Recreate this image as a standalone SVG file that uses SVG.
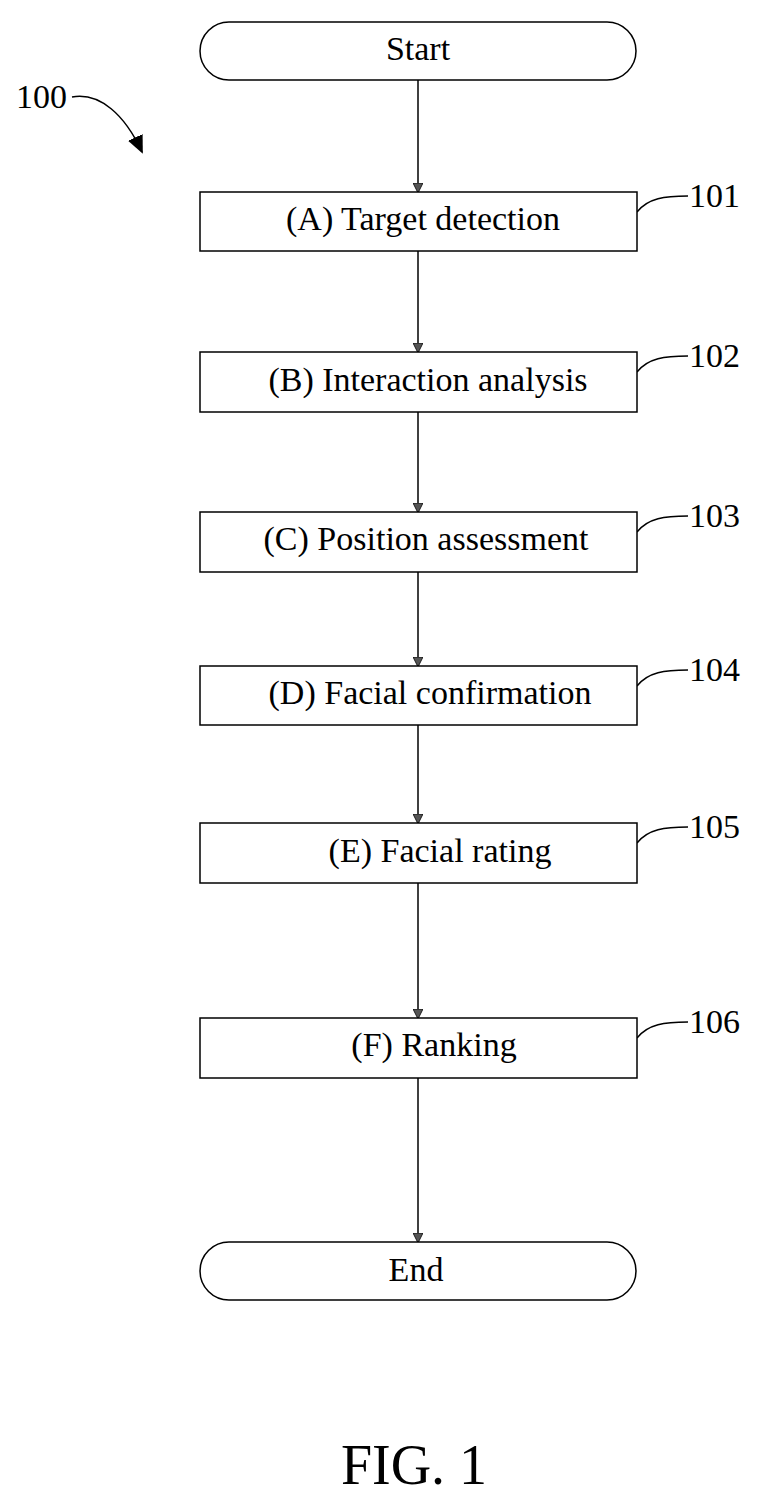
<svg xmlns="http://www.w3.org/2000/svg" width="762" height="1505" viewBox="0 0 762 1505">
<style>
.b{fill:#fff;stroke:#000;stroke-width:1.5}
.t{font-family:"Liberation Serif",serif;font-size:34px;fill:#000;text-anchor:middle}
.n{font-family:"Liberation Serif",serif;font-size:34px;fill:#000}
.c{fill:none;stroke:#000;stroke-width:1.5}
</style>
<defs>
<marker id="a" markerWidth="10" markerHeight="10" refX="9" refY="5" orient="auto" markerUnits="userSpaceOnUse"><path d="M0,0 L10,5 L0,10 Z" fill="#555" stroke="#000" stroke-width="0.8"/></marker>
<marker id="a2" markerWidth="18" markerHeight="16" refX="16" refY="8" orient="auto" markerUnits="userSpaceOnUse"><path d="M0,0 L18,8 L0,16 Z" fill="#000"/></marker>
</defs>
<g id="connectors">
<line class="c" x1="418" y1="80" x2="418" y2="192" marker-end="url(#a)"/>
<line class="c" x1="418" y1="251" x2="418" y2="352" marker-end="url(#a)"/>
<line class="c" x1="418" y1="412" x2="418" y2="512" marker-end="url(#a)"/>
<line class="c" x1="418" y1="572" x2="418" y2="666" marker-end="url(#a)"/>
<line class="c" x1="418" y1="725" x2="418" y2="823" marker-end="url(#a)"/>
<line class="c" x1="418" y1="883" x2="418" y2="1018" marker-end="url(#a)"/>
<line class="c" x1="418" y1="1078" x2="418" y2="1242" marker-end="url(#a)"/>
<path class="c" d="M72,97 C100,92 125,115 142,152" stroke-width="2.5" marker-end="url(#a2)"/>
<path class="c" d="M637,212 C648,198 665,196 688,196"/>
<path class="c" d="M637,372 C648,358 665,356 688,356"/>
<path class="c" d="M637,532 C648,518 665,516 688,516"/>
<path class="c" d="M637,686 C648,672 665,670 688,670"/>
<path class="c" d="M637,843 C648,829 665,827 688,827"/>
<path class="c" d="M637,1038 C648,1024 665,1022 688,1022"/>
</g>
<g id="start"><rect class="b" x="200" y="22" width="436" height="58" rx="29"/><text class="t" x="418" y="60">Start</text></g>
<g id="n101"><rect class="b" x="200" y="192" width="437" height="59"/><text class="t" x="423" y="230">(A) Target detection</text><text class="n" x="689" y="207">101</text></g>
<g id="n102"><rect class="b" x="200" y="352" width="437" height="60"/><text class="t" x="428" y="391">(B) Interaction analysis</text><text class="n" x="689" y="367">102</text></g>
<g id="n103"><rect class="b" x="200" y="512" width="437" height="60"/><text class="t" x="426" y="550">(C) Position assessment</text><text class="n" x="689" y="527">103</text></g>
<g id="n104"><rect class="b" x="200" y="666" width="437" height="59"/><text class="t" x="430" y="704">(D) Facial confirmation</text><text class="n" x="689" y="681">104</text></g>
<g id="n105"><rect class="b" x="200" y="823" width="437" height="60"/><text class="t" x="440" y="862">(E) Facial rating</text><text class="n" x="689" y="838">105</text></g>
<g id="n106"><rect class="b" x="200" y="1018" width="437" height="60"/><text class="t" x="434" y="1056">(F) Ranking</text><text class="n" x="689" y="1033">106</text></g>
<g id="end"><rect class="b" x="200" y="1242" width="436" height="58" rx="29"/><text class="t" x="416" y="1281">End</text></g>
<text class="n" x="16" y="108">100</text>
<text class="t" x="414" y="1484" style="font-size:56px">FIG. 1</text>
</svg>
